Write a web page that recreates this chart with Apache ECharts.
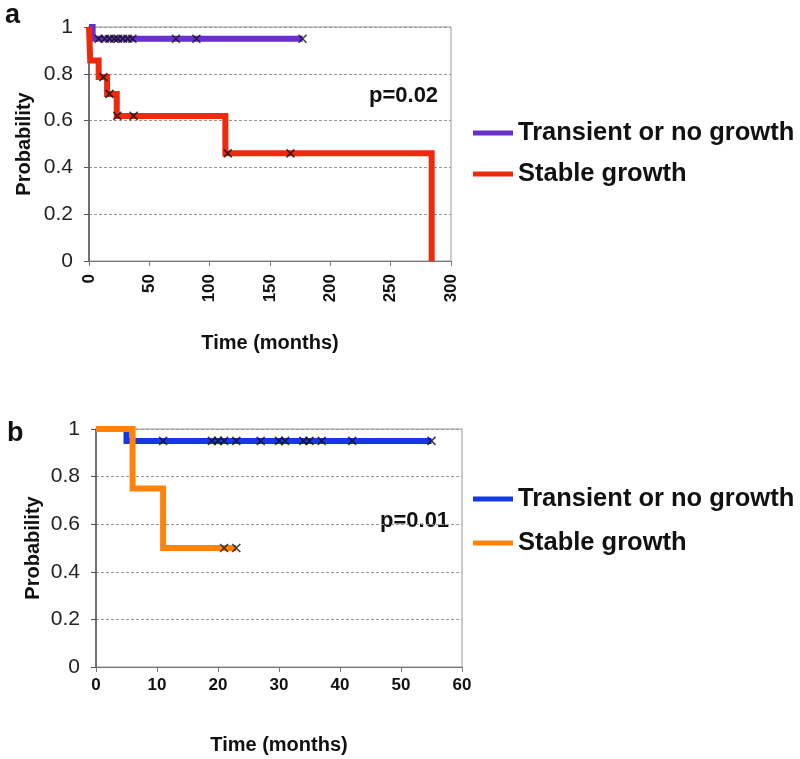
<!DOCTYPE html>
<html>
<head>
<meta charset="utf-8">
<script src="https://cdn.jsdelivr.net/npm/echarts@6/dist/echarts.min.js"></script>
<style>html,body{margin:0;padding:0;background:#fff}#c{width:800px;height:759px}</style>
</head>
<body>
<div id="c"></div>
<script>
// ---- Panel a data ----
const aTransientTime = [0, 3, 177];
const aTransientProb = [1, 0.95, 0.95];
const aStableTime = [0, 1, 8, 15, 23, 113, 284];
const aStableProb = [1, 0.857, 0.786, 0.714, 0.62, 0.46, 0];
const aTransientCensorTime = [8, 13, 17, 21, 24, 28, 32, 36, 72, 89, 177];
const aTransientCensorProb = [0.95, 0.95, 0.95, 0.95, 0.95, 0.95, 0.95, 0.95, 0.95, 0.95, 0.95];
const aStableCensorTime = [12, 17, 23.5, 37, 115, 167];
const aStableCensorProb = [0.786, 0.714, 0.62, 0.62, 0.46, 0.46];
const aXTicks = [0, 50, 100, 150, 200, 250, 300];
const aPValue = 'p=0.02';

// ---- Panel b data ----
const bTransientTime = [0, 5, 55];
const bTransientProb = [1, 0.95, 0.95];
const bStableTime = [0, 6, 11, 23];
const bStableProb = [1, 0.75, 0.5, 0.5];
const bTransientCensorTime = [11, 19, 20, 21, 23, 27, 30, 31, 34, 35, 37, 42, 55];
const bTransientCensorProb = [0.95, 0.95, 0.95, 0.95, 0.95, 0.95, 0.95, 0.95, 0.95, 0.95, 0.95, 0.95, 0.95];
const bStableCensorTime = [21, 23];
const bStableCensorProb = [0.5, 0.5];
const bXTicks = [0, 10, 20, 30, 40, 50, 60];
const bPValue = 'p=0.01';

const yTicks = [0, 0.2, 0.4, 0.6, 0.8, 1];
const seriesNames = ['Transient or no growth', 'Stable growth'];
const colors = { aT: '#6a2fcf', aS: '#ee2a0c', bT: '#1438e6', bS: '#ff820a' };

const FONT = '"Liberation Sans", Arial, Helvetica, sans-serif';
const zip = (xs, ys) => xs.map((x, i) => [x, ys[i]]);

const xSym = 'path://M0,0L10,10M10,0L0,10';

function stepSeries(name, xi, t, p, color, z) {
  return { name, type: 'line', xAxisIndex: xi, yAxisIndex: xi, step: 'end', data: zip(t, p),
    showSymbol: false, symbol: 'none', z, lineStyle: { color, width: 6, cap: 'butt', join: 'miter' },
    itemStyle: { color }, silent: true, animation: false };
}
function censorSeries(name, xi, t, p) {
  return { name, type: 'scatter', xAxisIndex: xi, yAxisIndex: xi, data: zip(t, p), symbol: xSym,
    symbolSize: 8, z: 10, itemStyle: { color: 'rgba(0,0,0,0)', borderColor: '#111', borderWidth: 1.6 },
    silent: true, animation: false };
}

function yAxis(gi) {
  return { type: 'value', gridIndex: gi, min: 0, max: 1, interval: 0.2,
    name: 'Probability', nameLocation: 'middle', nameGap: gi === 0 ? 55 : 53,
    nameTextStyle: { fontFamily: FONT, fontWeight: 'bold', fontSize: 20, color: '#111' },
    axisLine: { show: true, lineStyle: { color: '#555', width: 1.5 } },
    axisTick: { show: true, length: 5, lineStyle: { color: '#555' } },
    axisLabel: { fontFamily: FONT, fontSize: 21, color: '#222', margin: 16,
      formatter: v => String(yTicks.find(t => Math.abs(t - v) < 1e-6) ?? v) },
    splitLine: { show: true, lineStyle: { color: '#999', width: 1, type: [3, 2] } } };
}
function xAxis(gi, ticks) {
  return { type: 'value', gridIndex: gi, min: ticks[0], max: ticks[ticks.length - 1],
    interval: ticks[1] - ticks[0],
    name: 'Time (months)', nameLocation: 'middle', nameGap: gi === 0 ? 72 : 68,
    nameTextStyle: { fontFamily: FONT, fontWeight: 'bold', fontSize: 20, color: '#111' },
    axisLine: { show: true, onZero: false, lineStyle: { color: '#777', width: 1.2 } },
    axisTick: { show: true, length: 5, lineStyle: { color: '#777' } },
    axisLabel: { fontFamily: FONT, fontWeight: 'bold', fontSize: 17, color: '#111',
      rotate: gi === 0 ? 90 : 0, margin: gi === 0 ? 13 : 10 },
    splitLine: { show: false } };
}

const chart = echarts.init(document.getElementById('c'), null, { renderer: 'canvas' });
chart.setOption({
  animation: false,
  backgroundColor: '#fff',
  grid: [
    { left: 89, top: 27, width: 362, height: 234, show: true, borderColor: '#999', borderWidth: 1 },
    { left: 96, top: 429, width: 366, height: 238, show: true, borderColor: '#999', borderWidth: 1 }
  ],
  xAxis: [xAxis(0, aXTicks), xAxis(1, bXTicks)],
  yAxis: [yAxis(0), yAxis(1)],
  legend: [
    { left: 473, top: 120, padding: 0, orient: 'vertical', itemWidth: 40, itemHeight: 5, itemGap: 15, icon: 'rect',
      selectedMode: false,
      textStyle: { fontFamily: FONT, fontWeight: 'bold', fontSize: 25.5, color: '#111' },
      data: [{ name: seriesNames[0], itemStyle: { color: colors.aT } }, { name: seriesNames[1], itemStyle: { color: colors.aS } }] },
    { left: 473, top: 486, padding: 0, orient: 'vertical', itemWidth: 40, itemHeight: 5, itemGap: 18, icon: 'rect',
      selectedMode: false,
      textStyle: { fontFamily: FONT, fontWeight: 'bold', fontSize: 25.5, color: '#111' },
      data: [{ name: seriesNames[0], itemStyle: { color: colors.bT } }, { name: seriesNames[1], itemStyle: { color: colors.bS } }] }
  ],
  graphic: [
    { type: 'text', left: 5, top: 2, style: { text: 'a', font: 'bold 27px ' + FONT, fill: '#111' } },
    { type: 'text', left: 7, top: 420, style: { text: 'b', font: 'bold 27px ' + FONT, fill: '#111' } },
    { type: 'text', left: 369, top: 85, style: { text: aPValue, font: 'bold 22px ' + FONT, fill: '#111' } },
    { type: 'text', left: 380, top: 510, style: { text: bPValue, font: 'bold 22px ' + FONT, fill: '#111' } }
  ],
  series: [
    stepSeries(seriesNames[0], 0, aTransientTime, aTransientProb, colors.aT, 3),
    stepSeries(seriesNames[1], 0, aStableTime, aStableProb, colors.aS, 4),
    censorSeries('a-censor-transient', 0, aTransientCensorTime, aTransientCensorProb),
    censorSeries('a-censor-stable', 0, aStableCensorTime, aStableCensorProb),
    stepSeries(seriesNames[0], 1, bTransientTime, bTransientProb, colors.bT, 3),
    stepSeries(seriesNames[1], 1, bStableTime, bStableProb, colors.bS, 4),
    censorSeries('b-censor-transient', 1, bTransientCensorTime, bTransientCensorProb),
    censorSeries('b-censor-stable', 1, bStableCensorTime, bStableCensorProb)
  ]
});
</script>
</body>
</html>
